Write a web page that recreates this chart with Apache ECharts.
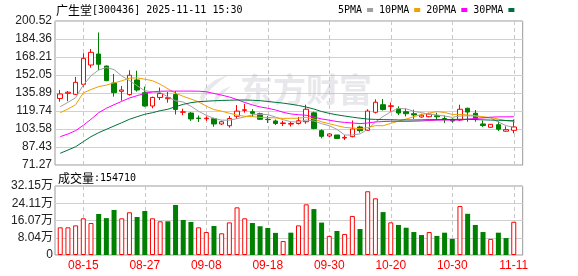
<!DOCTYPE html>
<html><head><meta charset="utf-8">
<script src="https://cdn.jsdelivr.net/npm/echarts@6/dist/echarts.min.js"></script>
<style>html,body{margin:0;padding:0;background:#fff;}#c{width:578px;height:276px;}</style>
</head><body><div id="c"></div>
<script>
const titleText = '广生堂[300436] 2025-11-11 15:30';
const volumeTitle = '成交量';
const dates = ['08-12','08-13','08-14','08-15','08-18','08-19','08-20','08-21','08-22','08-25','08-26','08-27','08-28','08-29',
 '09-01','09-02','09-03','09-04','09-05','09-08','09-09','09-10','09-11','09-12','09-15','09-16','09-17','09-18','09-19','09-22','09-23','09-24','09-25','09-26','09-29','09-30',
 '10-09','10-10','10-13','10-14','10-15','10-16','10-17','10-20','10-21','10-22','10-23','10-24','10-27','10-28','10-29','10-30','10-31',
 '11-03','11-04','11-05','11-06','11-07','11-10','11-11'];
const dateTicks = ['08-15','08-27','09-08','09-18','09-30','10-20','10-30','11-11'];
const opens = [131.0,135.6,134.7,143.7,161.0,170.9,160.1,144.9,137.4,134.5,147.6,136.2,124.2,131.9,130.8,134.5,118.6,117.9,113.4,112.8,112.8,108.1,106.5,115.0,120.3,119.1,117.3,112.3,110.8,108.5,108.0,108.5,110.1,118.1,102.1,97.3,98.2,95.5,96.7,105.4,102.4,118.6,125.4,123.9,121.7,119.1,117.3,114.4,114.6,115.5,113.0,112.3,111.7,122.2,117.7,108.1,105.1,107.4,101.6,102.4];
const closes = [135.0,136.6,145.5,167.0,172.4,161.7,147.0,136.2,138.6,151.8,138.6,124.2,131.9,135.4,131.7,121.1,119.0,112.6,113.0,113.3,108.1,110.1,113.0,119.6,120.9,117.7,112.3,112.0,108.5,109.0,108.5,111.0,121.3,104.0,97.0,99.1,95.1,96.0,103.6,102.1,119.7,127.6,121.1,124.4,117.9,117.3,116.2,116.0,117.0,114.6,112.1,110.8,121.3,118.8,112.3,106.7,107.8,103.4,103.0,105.4];
const lows = [128.1,128.5,134.1,141.6,158.6,156.3,146.5,132.6,129.0,133.5,137.1,123.6,122.2,129.6,127.2,116.6,116.0,110.8,109.9,110.8,105.6,107.2,104.8,112.7,118.2,114.6,111.7,109.0,107.2,106.3,105.8,107.6,108.3,103.3,95.2,96.1,94.6,93.7,96.1,100.3,102.1,117.5,120.2,119.1,116.1,114.8,112.6,113.7,114.1,111.7,109.0,109.2,110.8,110.1,110.1,105.4,104.9,101.8,101.2,99.7];
const highs = [138.6,137.7,150.3,171.5,175.4,190.2,160.5,153.0,142.2,156.3,155.9,141.6,132.6,140.8,136.8,137.7,121.8,118.8,115.7,115.0,113.6,111.0,115.3,125.1,126.0,121.3,118.2,115.3,112.1,111.0,110.1,114.4,125.4,119.1,103.3,99.7,98.2,98.2,111.2,106.5,121.3,130.2,130.5,127.4,124.0,122.1,120.9,117.3,118.2,118.2,115.7,113.2,125.4,122.7,120.6,111.2,108.0,110.5,106.0,112.1];
const ma5 = [123.6,127.5,131.7,143.0,151.3,156.6,158.7,156.9,151.2,147.1,142.4,137.9,137.0,136.4,132.4,128.9,127.8,124.0,119.5,115.8,113.2,111.5,111.5,112.9,114.4,116.3,116.7,116.5,114.3,111.9,110.1,109.8,111.7,110.8,108.4,106.5,103.3,98.2,98.2,99.2,103.3,109.8,114.8,119.0,122.1,121.7,119.4,118.3,116.8,116.2,115.2,114.1,115.2,115.5,115.1,114.0,113.4,109.8,106.6,105.2];
const ma10 = [118.2,121.5,125.4,136.0,139.0,141.6,143.0,145.0,146.8,149.2,149.5,148.3,146.9,143.8,139.7,135.7,132.9,130.5,127.9,124.1,121.0,119.6,117.7,116.1,115.0,114.7,114.0,114.0,113.5,113.1,113.2,113.3,114.1,112.5,110.1,108.3,106.6,105.0,104.5,103.8,104.9,106.6,106.5,108.6,110.7,112.5,114.6,116.6,117.9,119.2,118.4,116.7,116.7,116.2,115.6,114.6,113.8,112.5,111.1,110.1];
const ma20 = [96.7,99.1,102.1,106.9,112.3,118.2,122.2,125.4,128.4,131.4,133.5,135.6,136.8,137.5,137.6,137.6,137.6,137.6,137.5,137.0,135.5,134.0,132.3,130.0,127.4,125.2,123.4,122.2,120.7,118.6,117.1,116.4,115.9,114.3,112.6,111.5,110.3,109.5,109.0,108.4,109.0,109.9,110.3,110.5,110.4,110.4,110.6,110.8,111.2,111.5,111.6,111.6,111.6,112.4,113.1,113.5,114.2,114.5,114.5,114.6];
const ma30 = [81.8,84.7,87.7,92.2,96.7,100.3,103.3,106.3,109.2,112.3,114.6,116.8,118.2,120.0,121.3,123.6,125.7,127.2,128.1,128.5,128.9,129.2,129.4,129.6,129.6,129.4,129.0,128.3,127.5,126.8,125.8,124.7,123.3,121.5,119.3,117.6,116.3,115.2,114.2,113.3,112.5,112.2,112.0,111.9,111.7,111.7,111.7,111.8,112.0,112.0,112.1,112.1,112.3,112.3,112.0,111.8,111.6,111.4,111.2,111.0];
const volumes = [129000,129000,138000,171000,149000,191000,172000,210000,171000,199000,177000,205000,171000,157000,157000,233000,163000,154000,129000,107000,135000,101000,152000,222000,171000,149000,134000,126000,103000,65000,104000,138000,236000,214000,151000,89000,112000,98000,182000,121000,297000,264000,200000,152000,140000,127000,107000,93000,107000,89000,104000,75000,228000,192000,140000,107000,75000,104000,79000,154710];
const priceTicks = ['71.27','87.43','103.58','119.74','135.89','152.05','168.21','184.36','200.52'];
const volumeTicks = ['0','8.04万','16.07万','24.11万','32.15万'];
const maNames = ['5PMA','10PMA','20PMA','30PMA'];

const P_MIN = 71.27, P_MAX = 200.52, P_INT = (P_MAX - P_MIN) / 8;
const V_MAX = 321500, V_INT = V_MAX / 4;
const UP = '#ff0000', DOWN = '#008000';
const maColors = ['#a0a0a0', '#f0a000', '#ff00ff', '#00703a'];
const mono = "'DejaVu Sans Mono', monospace";
const cjk = "'Noto Sans CJK SC', sans-serif";
const labelFont = "'Liberation Sans', Arial, sans-serif";

function rich(s) {
  return s.replace(/([\u4e00-\u9fff]+)|([^\u4e00-\u9fff]+)/g, (m, c, a) => c ? '{c|' + c + '}' : '{a|' + a + '}');
}
const richStyles = {
  c: {fontFamily: cjk, fontSize: 12, fontWeight: 'normal', color: '#000', lineHeight: 14},
  a: {fontFamily: mono, fontSize: 10, fontWeight: 'normal', color: '#000', lineHeight: 14}
};
const showDate = (idx, val) => dateTicks.indexOf(val) >= 0;
const dashSplit = {show: true, interval: showDate, alignWithLabel: true,
  lineStyle: {color: '#c8c8c8', width: 1, type: [4, 3]}};
const wmFill = 'rgba(190,190,200,0.35)';

const chart = echarts.init(document.getElementById('c'), null, {renderer: 'canvas'});
const option = {
  animation: false,
  backgroundColor: '#fff',
  title: [
    {text: rich(titleText), left: 56, top: 3, padding: 0, textStyle: {fontWeight: 'normal', rich: richStyles}},
    {text: rich(volumeTitle + ':' + volumes[volumes.length - 1]), left: 58, top: 171, padding: 0, textStyle: {fontWeight: 'normal', rich: richStyles}}
  ],
  legend: {
    data: maNames, left: 338, top: 4, padding: 0, icon: 'rect', itemWidth: 6, itemHeight: 4,
    itemGap: 6, align: 'right', selectedMode: false,
    textStyle: {fontFamily: mono, fontSize: 10, color: '#000', lineHeight: 12}
  },
  graphic: [
    {type: 'polygon', z: 1, silent: true,
      shape: {points: [[228,75],[215,80],[205,88],[200,97],[202,106],[205,97],[212,88],[220,81]]},
      style: {fill: wmFill}},
    {type: 'polygon', z: 1, silent: true,
      shape: {points: [[231,86],[222,90],[215,97],[214,106],[218,99],[224,93]]},
      style: {fill: wmFill}},
    {type: 'text', z: 1, silent: true, x: 240, y: 89,
      style: {text: '东方财富', fontSize: 33, fontWeight: 'bold', fontFamily: cjk,
        fill: wmFill, align: 'left', verticalAlign: 'middle'}}
  ],
  grid: [
    {left: 55, top: 21, width: 467.7, height: 144, show: true, borderColor: '#999', borderWidth: 1, backgroundColor: 'transparent'},
    {left: 56.4, top: 21, width: 461.2, height: 144},
    {left: 55, top: 186, width: 467.7, height: 69, show: true, borderColor: '#999', borderWidth: 1, backgroundColor: 'transparent'},
    {left: 56.4, top: 186, width: 461.2, height: 69}
  ],
  xAxis: [
    {gridIndex: 0, type: 'value', show: false, min: 0, max: 1},
    {gridIndex: 1, type: 'category', data: dates, boundaryGap: true,
      axisLine: {show: false}, axisTick: {show: false}, axisLabel: {show: false}, splitLine: dashSplit},
    {gridIndex: 2, type: 'value', show: false, min: 0, max: 1},
    {gridIndex: 3, type: 'category', data: dates, boundaryGap: true,
      axisLine: {show: false}, axisTick: {show: false},
      axisLabel: {show: true, interval: showDate, color: '#ff0000', fontSize: 12, fontFamily: labelFont, margin: 5},
      splitLine: dashSplit}
  ],
  yAxis: [
    {gridIndex: 0, type: 'value', min: P_MIN, max: P_MAX, interval: P_INT,
      axisLine: {show: false}, axisTick: {show: false},
      axisLabel: {margin: 3, color: '#222', fontSize: 12, fontFamily: labelFont,
        formatter: v => priceTicks[Math.round((v - P_MIN) / P_INT)]},
      splitLine: {show: true, lineStyle: {color: '#d0d0d0', width: 1}}},
    {gridIndex: 1, type: 'value', min: P_MIN, max: P_MAX, show: false},
    {gridIndex: 2, type: 'value', min: 0, max: V_MAX, interval: V_INT,
      axisLine: {show: false}, axisTick: {show: false},
      axisLabel: {margin: 2, color: '#222', fontSize: 12, fontFamily: "'Liberation Sans', 'Noto Sans CJK SC', sans-serif",
        formatter: v => volumeTicks[Math.round(v / V_INT)]},
      splitLine: {show: true, lineStyle: {color: '#d0d0d0', width: 1}}},
    {gridIndex: 3, type: 'value', min: 0, max: V_MAX, show: false}
  ],
  series: [
    {type: 'candlestick', name: 'K', xAxisIndex: 1, yAxisIndex: 1, barWidth: 5,
      data: dates.map((d, i) => [opens[i], closes[i], lows[i], highs[i]]),
      itemStyle: {color: '#ffffff', color0: DOWN, borderColor: UP, borderColor0: DOWN, borderWidth: 1}},
    ...[ma5, ma10, ma20, ma30].map((arr, k) => ({
      type: 'line', name: maNames[k], xAxisIndex: 1, yAxisIndex: 1, data: arr,
      symbol: 'none', showSymbol: false, silent: true,
      lineStyle: {color: maColors[k], width: 1}, itemStyle: {color: maColors[k]}
    })),
    {type: 'bar', name: 'VOL', xAxisIndex: 3, yAxisIndex: 3, barWidth: 5,
      data: volumes.map((v, i) => {
        const up = i === 0 || closes[i] >= closes[i - 1];
        return {value: v, itemStyle: up ? {color: '#ffffff', borderColor: UP, borderWidth: 1} : {color: DOWN, borderColor: DOWN, borderWidth: 0}};
      })}
  ]
};
chart.setOption(option);
</script></body></html>
